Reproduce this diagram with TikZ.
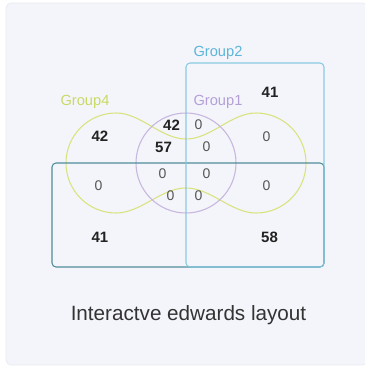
\documentclass[tikz,border=0pt]{standalone}
\usepackage{fontspec}
\setmainfont{Liberation Sans}
\definecolor{panel}{HTML}{F4F5FA}
\definecolor{paneledge}{HTML}{E9ECF2}
\definecolor{gtwo}{HTML}{7EC6E0}
\definecolor{gtwotxt}{HTML}{5DB5D8}
\definecolor{gthree}{HTML}{4F8E9C}
\definecolor{gone}{HTML}{C7B6DE}
\definecolor{gonetxt}{HTML}{B49FD8}
\definecolor{gfour}{HTML}{D9E37E}
\definecolor{gfourtxt}{HTML}{CAD966}
\definecolor{numdark}{HTML}{222222}
\definecolor{numgray}{HTML}{555555}
\definecolor{titletxt}{HTML}{333333}
\tikzset{
  setline/.style={line width=0.8pt},
  bignum/.style={inner sep=0pt, text=numdark, font=\fontsize{11.25}{13}\selectfont\bfseries},
  zeronum/.style={inner sep=0pt, text=numgray, font=\fontsize{10.5}{12}\selectfont},
  grouplabel/.style={inner sep=0pt, font=\fontsize{11}{13}\selectfont},
}
\begin{document}
\begin{tikzpicture}[x=0.75pt,y=0.75pt]
\useasboundingbox (0,0) rectangle (364,-367);
\fill[white] (0,0) rectangle (364,-367);
\filldraw[fill=panel, draw=paneledge, line width=0.6pt, rounded corners=4] (6,-3) rectangle (368,-365);
% Group4 (edwards lobes)
\draw[setline, gfour] (116,-113) arc[start angle=90, end angle=270, radius=50]
  .. controls (141,-213) and (161,-188) .. (186,-188)
  .. controls (211,-188) and (231,-213) .. (256,-213)
  arc[start angle=-90, end angle=90, radius=50]
  .. controls (231,-113) and (211,-139) .. (186,-139)
  .. controls (161,-139) and (141,-113) .. (116,-113) -- cycle;
% Group1 circle
\draw[setline, gone] (186,-163) circle[radius=50];
% Group3 rectangle
\draw[setline, gthree, rounded corners=3] (52,-163) rectangle (324,-267);
% Group2 rectangle
\draw[setline, gtwo, rounded corners=3, opacity=0.9] (186,-63) rectangle (324,-267);
% labels
\node[grouplabel, text=gtwotxt] (lg2) at (218,-53) {Group2};
\node[grouplabel, text=gfourtxt] (lg4) at (85,-102) {Group4};
\node[grouplabel, text=gonetxt] (lg1) at (218,-102) {Group1};
% numbers
\node[bignum] (n1) at (270,-92) {41};
\node[bignum] (n2) at (100,-136) {42};
\node[bignum] (n3) at (171.5,-125) {42};
\node[zeronum] (n4) at (198.5,-125) {0};
\node[bignum] (n5) at (163.5,-147) {57};
\node[zeronum] (n6) at (206.5,-147) {0};
\node[zeronum] (n7) at (266.5,-137) {0};
\node[zeronum] (n8) at (98.5,-186) {0};
\node[zeronum] (n9) at (162.5,-174) {0};
\node[zeronum] (n10) at (206.5,-174) {0};
\node[zeronum] (n11) at (266.5,-186) {0};
\node[zeronum] (n12) at (170.5,-196) {0};
\node[zeronum] (n13) at (198.5,-196) {0};
\node[bignum] (n14) at (100,-237) {41};
\node[bignum] (n15) at (269.5,-237) {58};
% title
\node[inner sep=0pt, text=titletxt, font=\fontsize{15.5}{18}\selectfont] (title) at (188.5,-315) {Interactve edwards layout};
\end{tikzpicture}
\end{document}
